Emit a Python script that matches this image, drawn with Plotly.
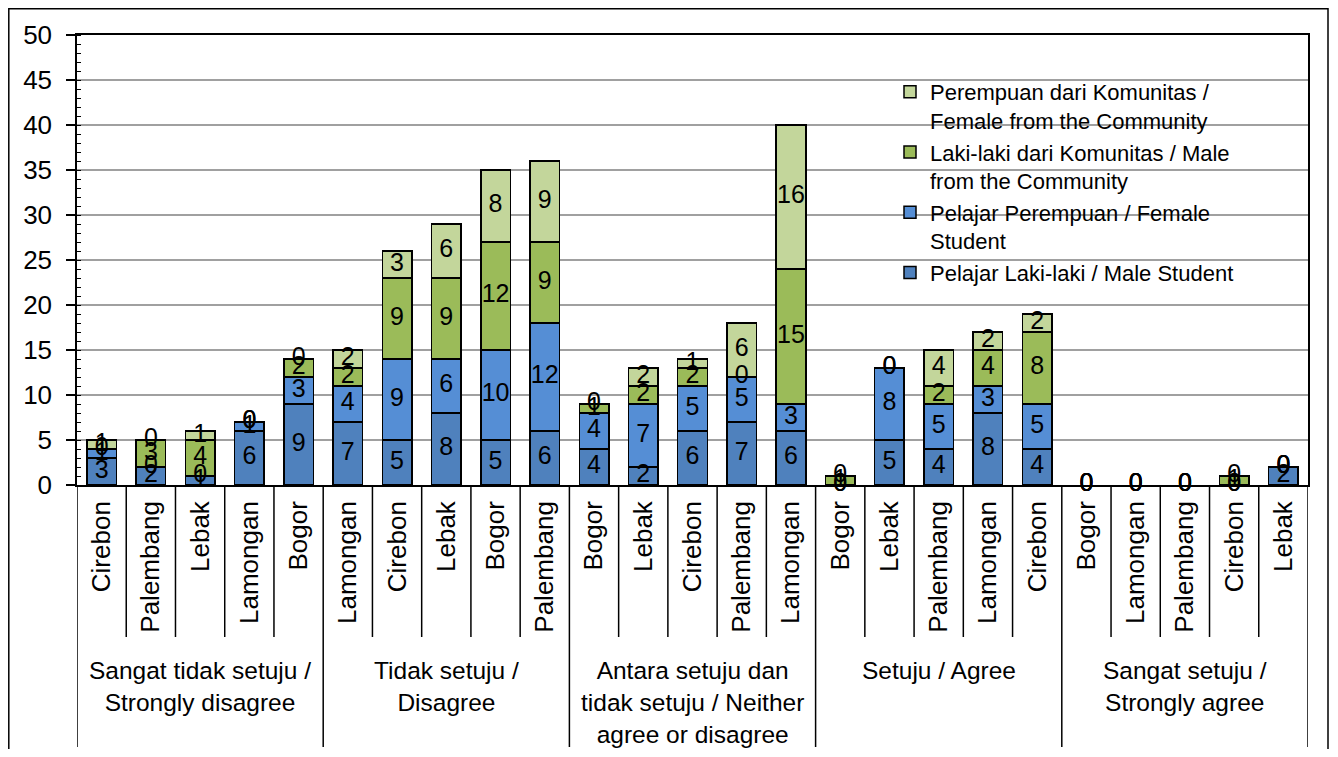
import plotly.graph_objects as go

# ---------------- data ----------------
groups = [
    "Sangat tidak setuju /<br>Strongly disagree",
    "Tidak setuju /<br>Disagree",
    "Antara setuju dan<br>tidak setuju / Neither<br>agree or disagree",
    "Setuju / Agree",
    "Sangat setuju /<br>Strongly agree",
]
cities = [
    ["Cirebon", "Palembang", "Lebak", "Lamongan", "Bogor"],
    ["Lamongan", "Cirebon", "Lebak", "Bogor", "Palembang"],
    ["Bogor", "Lebak", "Cirebon", "Palembang", "Lamongan"],
    ["Bogor", "Lebak", "Palembang", "Lamongan", "Cirebon"],
    ["Bogor", "Lamongan", "Palembang", "Cirebon", "Lebak"],
]
male_student = [3, 2, 1, 6, 9,   7, 5, 8, 5, 6,   4, 2, 6, 7, 6,   0, 5, 4, 8, 4,   0, 0, 0, 0, 2]
female_student = [1, 0, 0, 1, 3,  4, 9, 6, 10, 12,  4, 7, 5, 5, 3,  0, 8, 5, 3, 5,  0, 0, 0, 0, 0]
male_community = [0, 3, 4, 0, 2,  2, 9, 9, 12, 9,  1, 2, 2, 0, 15,  1, 0, 2, 4, 8,  0, 0, 0, 1, 0]
female_community = [1, 0, 1, 0, 0,  2, 3, 6, 8, 9,  0, 2, 1, 6, 16,  0, 0, 4, 2, 2,  0, 0, 0, 0, 0]

series_names = [
    "Pelajar Laki-laki / Male Student",
    "Pelajar Perempuan / Female<br>Student",
    "Laki-laki dari Komunitas / Male<br>from the Community",
    "Perempuan dari Komunitas /<br>Female from the Community",
]
series_values = [male_student, female_student, male_community, female_community]
series_colors = ["#4F81BD", "#558ED5", "#9BBB59", "#C3D69B"]

y_ticks = [0, 5, 10, 15, 20, 25, 30, 35, 40, 45, 50]

# ---------------- layout geometry (page pixels) ----------------
OFF = 8                      # default body margin of the html page
W, H = 1338 - 2 * OFF, 757 - 2 * OFF
L, R, T, B = 77, 1308, 35, 485   # plot area in page pixels
FONT = "Liberation Sans, Arial, sans-serif"

def px_y(p):
    return (B - p) / (B - T)

def px_x(p):
    return (p - L) / (R - L)

n = sum(len(c) for c in cities)
xs = list(range(n))
flat_cities = [c for grp in cities for c in grp]

fig = go.Figure()

bases = [0] * n
label_traces = []
for name, vals, col in zip(series_names, series_values, series_colors):
    fig.add_trace(go.Bar(
        x=xs, y=[v if v else None for v in vals], name=name,
        marker=dict(color=col, line=dict(color="black", width=1.5)),
        width=0.6, hoverinfo="skip",
    ))
    ly = [b + v / 2 for b, v in zip(bases, vals)]
    label_traces.append(go.Scatter(
        x=xs, y=ly, mode="text", text=[str(v) for v in vals],
        textfont=dict(family=FONT, size=25, color="black"),
        textposition="middle center", showlegend=False, hoverinfo="skip", cliponaxis=False,
    ))
    bases = [b + v for b, v in zip(bases, vals)]

for t in label_traces:
    fig.add_trace(t)

shapes = []
for k in range(n + 1):
    xb = k - 0.5
    is_group = (k % 5 == 0)
    shapes.append(dict(
        type="line", xref="x", yref="paper", x0=xb, x1=xb,
        y0=0, y1=px_y(747 if is_group else 637),
        line=dict(color="black", width=1.5),
    ))
shapes.append(dict(
    type="rect", xref="paper", yref="paper",
    x0=px_x(OFF + 0.8), x1=px_x(1328), y0=px_y(790), y1=px_y(OFF + 0.8),
    line=dict(color="black", width=1.5), fillcolor="rgba(0,0,0,0)", layer="below",
))

annotations = []
for g, txt in enumerate(groups):
    annotations.append(dict(
        x=g * 5 + 2, y=px_y(655), xref="x", yref="paper", text=txt,
        showarrow=False, xanchor="center", yanchor="top", align="center",
        font=dict(family=FONT, size=24.5, color="black"),
    ))

fig.update_layout(
    width=W, height=H,
    margin=dict(l=L - OFF, r=W - (R - OFF), t=T - OFF, b=H - (B - OFF), pad=0),
    barmode="stack",
    plot_bgcolor="white", paper_bgcolor="white",
    font=dict(family=FONT, size=24, color="black"),
    showlegend=True,
    legend=dict(
        x=px_x(890), y=px_y(71), xanchor="left", yanchor="top",
        traceorder="reversed", valign="top", bgcolor="rgba(0,0,0,0)",
        font=dict(family=FONT, size=22, color="black"),
        itemwidth=30, tracegroupgap=0,
    ),
    shapes=shapes, annotations=annotations,
)
fig.update_xaxes(
    range=[-0.5, n - 0.5], tickmode="array", tickvals=xs, ticktext=flat_cities,
    tickangle=-90, ticks="", showgrid=False, automargin=False,
    tickfont=dict(family=FONT, size=26, color="black"), ticklabelstandoff=4,
    showline=True, linecolor="black", linewidth=1.5, mirror=True, zeroline=False,
)
fig.update_yaxes(
    range=[0, 50], tickvals=y_ticks, ticks="outside", ticklen=9, tickwidth=1.5, tickcolor="black",
    showline=True, linecolor="black", linewidth=1.5, mirror=True, automargin=False,
    showgrid=True, gridcolor="#A0A0A0", gridwidth=1.5, zeroline=False,
    tickfont=dict(family=FONT, size=26, color="black"), ticklabelstandoff=9,
    minor=dict(dtick=1, ticks="inside", ticklen=4, tickwidth=1.2, tickcolor="black", showgrid=False),
)

fig.write_html("out.html")
